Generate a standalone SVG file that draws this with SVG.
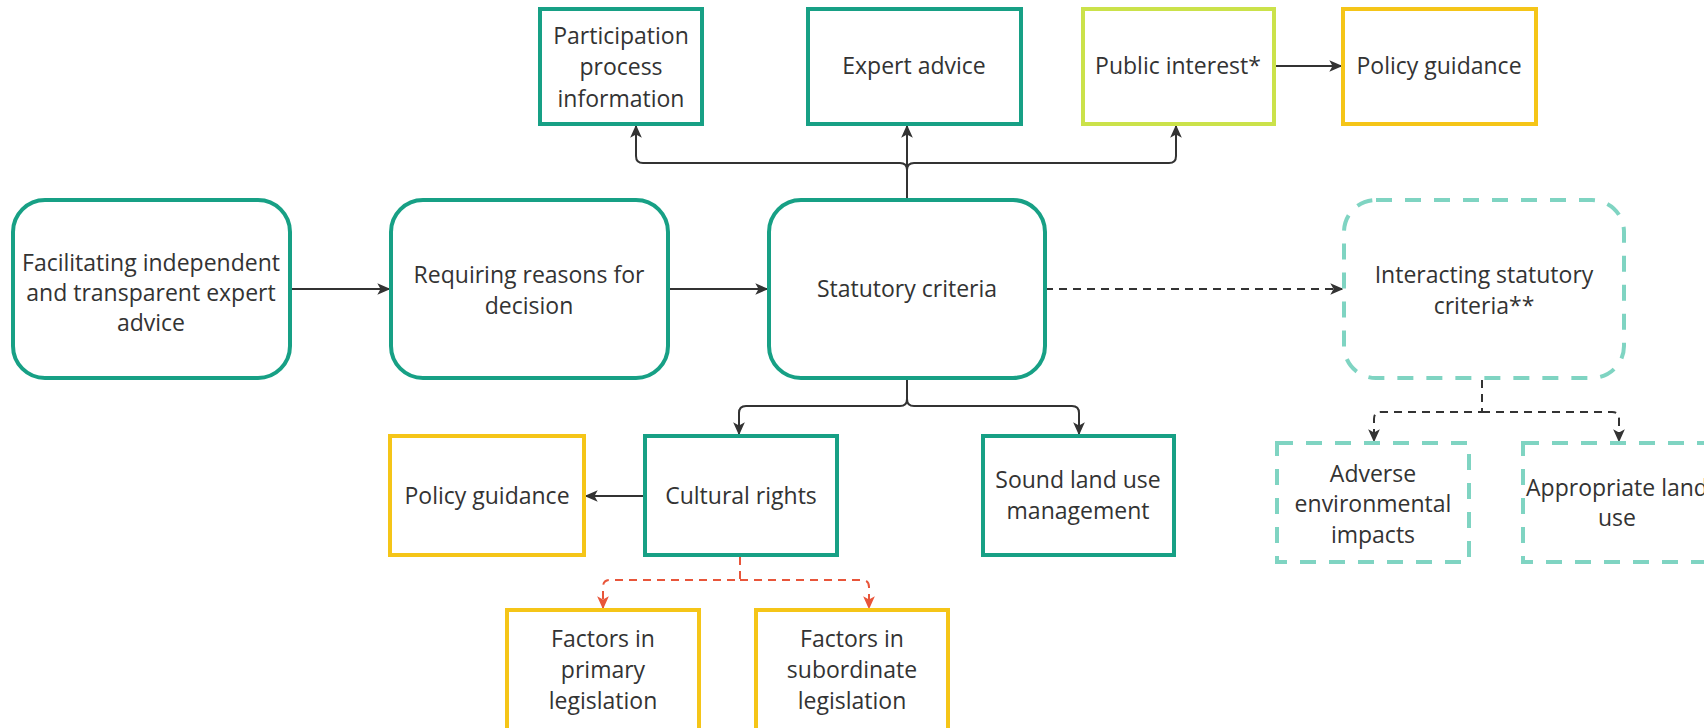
<svg xmlns="http://www.w3.org/2000/svg" width="1704" height="728" viewBox="0 0 1704 728">
<defs>
<style>
.t{font-family:"Open Sans","Noto Sans","Liberation Sans",sans-serif;font-size:23px;fill:#333;text-anchor:middle}
.teal{fill:#fff;stroke:#17a085;stroke-width:4}
.lime{fill:#fff;stroke:#cbe24a;stroke-width:4}
.yel{fill:#fff;stroke:#f5c518;stroke-width:4}
.dsh{fill:#fff;stroke:#7fd4c2;stroke-width:4;stroke-dasharray:16 13}
.c{fill:none;stroke:#333;stroke-width:2}
.cd{fill:none;stroke:#333;stroke-width:2;stroke-dasharray:8 6}
.cr{fill:none;stroke:#e8553a;stroke-width:2;stroke-dasharray:8 6}
</style>
<marker id="a" viewBox="0 0 10 10" refX="9" refY="5" markerWidth="13" markerHeight="13" orient="auto" markerUnits="userSpaceOnUse">
<path d="M0,0.5 L10,5 L0,9.5 L2.5,5 Z" fill="#333"/>
</marker>
<marker id="ar" viewBox="0 0 10 10" refX="9" refY="5" markerWidth="13" markerHeight="13" orient="auto" markerUnits="userSpaceOnUse">
<path d="M0,0.5 L10,5 L0,9.5 L2.5,5 Z" fill="#e8553a"/>
</marker>
</defs>
<rect width="1704" height="728" fill="#fff"/>

<g id="connectors">
<path class="c" d="M290,289 H389" marker-end="url(#a)"/>
<path class="c" d="M668,289 H767" marker-end="url(#a)"/>
<path class="cd" d="M1045,289 H1342" marker-end="url(#a)"/>
<path class="c" d="M907,200 V126" marker-end="url(#a)"/>
<path class="c" d="M907,200 V170 Q907,163 900,163 H643 Q636,163 636,156 V126" marker-end="url(#a)"/>
<path class="c" d="M907,170 Q907,163 914,163 H1169 Q1176,163 1176,156 V126" marker-end="url(#a)"/>
<path class="c" d="M1274,66 H1341" marker-end="url(#a)"/>
<path class="c" d="M907,378 V399 Q907,406 900,406 H746 Q739,406 739,413 V434" marker-end="url(#a)"/>
<path class="c" d="M907,399 Q907,406 914,406 H1072 Q1079,406 1079,413 V434" marker-end="url(#a)"/>
<path class="c" d="M645,496 H586" marker-end="url(#a)"/>
<path class="cr" d="M740,557 V580 H610 Q603,580 603,587 V608" marker-end="url(#ar)"/>
<path class="cr" d="M740,580 H862 Q869,580 869,587 V608" marker-end="url(#ar)"/>
<path class="cd" d="M1482,380 V412 H1381 Q1374,412 1374,419 V441" marker-end="url(#a)"/>
<path class="cd" d="M1482,412 H1612 Q1619,412 1619,419 V441" marker-end="url(#a)"/>
</g>

<g id="participation">
<rect class="teal" x="540" y="9" width="162" height="115"/>
<text class="t" x="621" y="44">Participation</text>
<text class="t" x="621" y="75">process</text>
<text class="t" x="621" y="107">information</text>
</g>
<g id="expert">
<rect class="teal" x="808" y="9" width="213" height="115"/>
<text class="t" x="914" y="74">Expert advice</text>
</g>
<g id="public">
<rect class="lime" x="1083" y="9" width="191" height="115"/>
<text class="t" x="1178" y="74">Public interest*</text>
</g>
<g id="policy-top">
<rect class="yel" x="1343" y="9" width="193" height="115"/>
<text class="t" x="1439" y="74">Policy guidance</text>
</g>

<g id="facilitating">
<rect class="teal" x="13" y="200" width="277" height="178" rx="32"/>
<text class="t" x="151" y="271">Facilitating independent</text>
<text class="t" x="151" y="301">and transparent expert</text>
<text class="t" x="151" y="331">advice</text>
</g>
<g id="requiring">
<rect class="teal" x="391" y="200" width="277" height="178" rx="32"/>
<text class="t" x="529" y="283">Requiring reasons for</text>
<text class="t" x="529" y="314">decision</text>
</g>
<g id="statutory">
<rect class="teal" x="769" y="200" width="276" height="178" rx="32"/>
<text class="t" x="907" y="297">Statutory criteria</text>
</g>
<g id="interacting">
<rect class="dsh" x="1344" y="200" width="280" height="178" rx="32"/>
<text class="t" x="1484" y="283">Interacting statutory</text>
<text class="t" x="1484" y="314">criteria**</text>
</g>

<g id="policy-bottom">
<rect class="yel" x="390" y="436" width="194" height="119"/>
<text class="t" x="487" y="504">Policy guidance</text>
</g>
<g id="cultural">
<rect class="teal" x="645" y="436" width="192" height="119"/>
<text class="t" x="741" y="504">Cultural rights</text>
</g>
<g id="sound">
<rect class="teal" x="983" y="436" width="191" height="119"/>
<text class="t" x="1078" y="488">Sound land use</text>
<text class="t" x="1078" y="519">management</text>
</g>

<g id="primary">
<rect class="yel" x="507" y="610" width="192" height="120"/>
<text class="t" x="603" y="647">Factors in</text>
<text class="t" x="603" y="678">primary</text>
<text class="t" x="603" y="709">legislation</text>
</g>
<g id="subordinate">
<rect class="yel" x="756" y="610" width="192" height="120"/>
<text class="t" x="852" y="647">Factors in</text>
<text class="t" x="852" y="678">subordinate</text>
<text class="t" x="852" y="709">legislation</text>
</g>

<g id="adverse">
<rect class="dsh" x="1277" y="443" width="192" height="119"/>
<text class="t" x="1373" y="482">Adverse</text>
<text class="t" x="1373" y="512">environmental</text>
<text class="t" x="1373" y="543">impacts</text>
</g>
<g id="appropriate">
<rect class="dsh" x="1523" y="443" width="192" height="119"/>
<text class="t" x="1617" y="496">Appropriate land</text>
<text class="t" x="1617" y="526">use</text>
</g>
</svg>
